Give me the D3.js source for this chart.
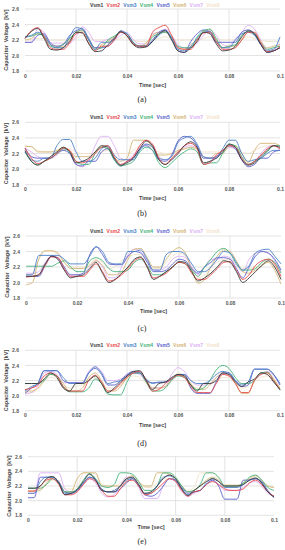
<!DOCTYPE html>
<html>
<head>
<meta charset="utf-8">
<script src="https://cdn.jsdelivr.net/npm/d3@7"></script>
<style>
body { margin: 0; background: #fff; }
svg { display: block; font-family: "Liberation Sans", Arial, sans-serif; }
</style>
</head>
<body>
<script>
// sample instants (sec), every 2.5 ms from 0 to 0.1
var time = d3.range(0, 0.10001, 0.0025);

var names = ["Vsm1", "Vsm2", "Vsm3", "Vsm4", "Vsm5", "Vsm6", "Vsm7", "Vsm8"];
var yTicks = [1.8, 2.0, 2.2, 2.4, 2.6];
var xTicks = [0, 0.02, 0.04, 0.06, 0.08, 0.1];
var captions = ["(a)", "(b)", "(c)", "(d)", "(e)"];

// capacitor voltages [kV], one row per submodule (Vsm1..Vsm8)
var caseA = [
  [2.22,2.31,2.35,2.22,2.08,2.07,2.10,2.18,2.30,2.29, 2.15,2.05,2.06,2.14,2.22,2.31,2.25,2.14,2.10,2.11, 2.18,2.28,2.32,2.20,2.06,2.04,2.10,2.18,2.30,2.28, 2.15,2.06,2.07,2.12,2.24,2.32,2.28,2.14,2.04,2.06, 2.10],
  [2.22,2.32,2.36,2.24,2.10,2.08,2.08,2.16,2.28,2.30, 2.16,2.06,2.12,2.12,2.20,2.30,2.26,2.15,2.12,2.12, 2.30,2.36,2.39,2.26,2.10,2.08,2.08,2.20,2.29,2.30, 2.18,2.08,2.08,2.10,2.20,2.30,2.30,2.16,2.05,2.06, 2.12],
  [2.24,2.26,2.30,2.26,2.14,2.10,2.10,2.24,2.36,2.34, 2.20,2.08,2.17,2.17,2.22,2.30,2.28,2.16,2.12,2.12, 2.18,2.26,2.32,2.22,2.08,2.06,2.12,2.22,2.30,2.31, 2.18,2.10,2.10,2.20,2.28,2.30,2.26,2.14,2.06,2.08, 2.24],
  [2.24,2.25,2.28,2.24,2.12,2.10,2.15,2.22,2.30,2.33, 2.20,2.08,2.10,2.20,2.25,2.30,2.28,2.17,2.12,2.13, 2.24,2.28,2.30,2.24,2.12,2.10,2.10,2.24,2.32,2.34, 2.22,2.10,2.12,2.14,2.26,2.31,2.28,2.16,2.08,2.10, 2.12],
  [2.17,2.17,2.26,2.28,2.16,2.12,2.14,2.26,2.32,2.35, 2.22,2.10,2.10,2.12,2.20,2.32,2.28,2.16,2.12,2.12, 2.20,2.30,2.33,2.22,2.06,2.04,2.18,2.28,2.33,2.30, 2.17,2.17,2.17,2.17,2.30,2.33,2.28,2.14,2.04,2.06, 2.10],
  [2.20,2.22,2.28,2.26,2.14,2.12,2.12,2.20,2.30,2.32, 2.20,2.10,2.14,2.18,2.24,2.30,2.26,2.14,2.12,2.16, 2.26,2.30,2.30,2.22,2.10,2.08,2.14,2.20,2.30,2.32, 2.20,2.10,2.12,2.12,2.20,2.30,2.29,2.18,2.10,2.12, 2.14],
  [2.17,2.17,2.34,2.30,2.16,2.16,2.16,2.16,2.24,2.37, 2.30,2.18,2.18,2.21,2.21,2.26,2.30,2.20,2.15,2.15, 2.28,2.30,2.34,2.26,2.14,2.10,2.10,2.16,2.26,2.33, 2.26,2.14,2.12,2.22,2.30,2.39,2.34,2.20,2.08,2.08, 2.16],
  [2.20,2.20,2.22,2.22,2.20,2.20,2.20,2.20,2.22,2.26, 2.24,2.20,2.20,2.20,2.20,2.22,2.24,2.20,2.18,2.18, 2.20,2.22,2.24,2.22,2.20,2.20,2.20,2.20,2.22,2.24, 2.22,2.20,2.20,2.20,2.22,2.24,2.22,2.20,2.18,2.18, 2.18]
];

var caseB = [
  [2.24,2.10,2.05,2.10,2.16,2.22,2.28,2.22,2.08,2.10, 2.14,2.22,2.30,2.28,2.14,2.05,2.08,2.14,2.26,2.36, 2.30,2.12,2.06,2.12,2.20,2.30,2.35,2.28,2.08,2.10, 2.14,2.22,2.32,2.28,2.12,2.05,2.08,2.16,2.24,2.30, 2.28],
  [2.27,2.14,2.07,2.10,2.14,2.20,2.27,2.24,2.10,2.08, 2.12,2.20,2.28,2.30,2.16,2.06,2.10,2.16,2.30,2.37, 2.32,2.14,2.06,2.14,2.22,2.30,2.33,2.26,2.06,2.08, 2.18,2.24,2.30,2.28,2.14,2.06,2.10,2.18,2.26,2.30, 2.26],
  [2.22,2.12,2.10,2.14,2.14,2.30,2.38,2.38,2.22,2.10, 2.10,2.14,2.26,2.30,2.18,2.12,2.12,2.12,2.24,2.32, 2.28,2.14,2.12,2.16,2.34,2.40,2.42,2.32,2.16,2.14, 2.14,2.26,2.37,2.37,2.20,2.10,2.12,2.14,2.20,2.24, 2.24],
  [2.22,2.10,2.06,2.10,2.14,2.20,2.26,2.22,2.10,2.06, 2.06,2.20,2.28,2.26,2.12,2.04,2.06,2.10,2.22,2.28, 2.24,2.08,2.02,2.08,2.16,2.22,2.26,2.22,2.06,2.08, 2.08,2.20,2.32,2.30,2.16,2.06,2.10,2.14,2.22,2.30, 2.30],
  [2.27,2.16,2.14,2.14,2.14,2.20,2.24,2.20,2.06,2.04, 2.10,2.10,2.22,2.26,2.12,2.04,2.10,2.14,2.26,2.30, 2.24,2.12,2.10,2.18,2.36,2.42,2.40,2.30,2.14,2.14, 2.16,2.24,2.30,2.26,2.12,2.03,2.06,2.14,2.14,2.22, 2.24],
  [2.29,2.29,2.22,2.22,2.22,2.24,2.28,2.24,2.16,2.16, 2.16,2.22,2.28,2.26,2.14,2.10,2.14,2.37,2.37,2.37, 2.28,2.18,2.18,2.20,2.24,2.26,2.28,2.26,2.16,2.14, 2.20,2.20,2.30,2.30,2.20,2.08,2.24,2.33,2.33,2.33, 2.30],
  [2.27,2.22,2.16,2.14,2.14,2.18,2.26,2.24,2.06,2.03, 2.10,2.30,2.42,2.42,2.30,2.14,2.12,2.18,2.28,2.32, 2.30,2.16,2.12,2.12,2.20,2.28,2.30,2.26,2.08,2.10, 2.16,2.20,2.28,2.26,2.12,2.06,2.10,2.20,2.28,2.30, 2.24],
  [2.30,2.28,2.24,2.22,2.22,2.22,2.24,2.26,2.22,2.20, 2.20,2.20,2.22,2.24,2.20,2.20,2.20,2.24,2.30,2.32, 2.26,2.22,2.20,2.20,2.22,2.26,2.28,2.24,2.22,2.22, 2.22,2.22,2.28,2.26,2.22,2.20,2.24,2.28,2.30,2.30, 2.28]
];

var caseC = [
  [2.08,2.08,2.10,2.24,2.34,2.30,2.16,2.06,2.08,2.10, 2.18,2.26,2.12,2.00,2.04,2.12,2.20,2.30,2.33,2.20, 2.04,2.08,2.14,2.20,2.27,2.26,2.14,2.02,2.06,2.12, 2.20,2.28,2.26,2.14,2.00,2.06,2.14,2.22,2.28,2.20, 2.04],
  [2.07,2.08,2.10,2.22,2.33,2.32,2.18,2.08,2.08,2.08, 2.16,2.24,2.14,2.02,2.04,2.10,2.18,2.28,2.32,2.20, 2.06,2.08,2.12,2.20,2.26,2.24,2.12,2.04,2.04,2.10, 2.18,2.26,2.27,2.16,2.04,2.10,2.22,2.28,2.30,2.24, 2.08],
  [2.10,2.10,2.35,2.35,2.35,2.35,2.30,2.24,2.24,2.24, 2.34,2.46,2.40,2.26,2.24,2.24,2.40,2.40,2.42,2.30, 2.16,2.16,2.36,2.40,2.40,2.36,2.24,2.14,2.14,2.20, 2.30,2.40,2.38,2.26,2.16,2.22,2.38,2.42,2.43,2.34, 2.24],
  [2.21,2.21,2.21,2.21,2.21,2.25,2.28,2.20,2.14,2.14, 2.28,2.32,2.28,2.18,2.14,2.14,2.16,2.26,2.30,2.22, 2.10,2.10,2.14,2.20,2.26,2.24,2.16,2.08,2.20,2.30, 2.40,2.44,2.38,2.24,2.16,2.16,2.18,2.26,2.30,2.26, 2.12],
  [2.08,2.08,2.08,2.22,2.34,2.32,2.20,2.10,2.10,2.12, 2.36,2.46,2.36,2.24,2.23,2.23,2.34,2.40,2.38,2.26, 2.14,2.14,2.16,2.24,2.30,2.28,2.18,2.12,2.20,2.26, 2.32,2.32,2.30,2.18,2.06,2.20,2.34,2.40,2.38,2.30, 2.16],
  [1.97,2.00,2.30,2.41,2.41,2.38,2.26,2.18,2.18,2.18, 2.22,2.28,2.22,2.10,2.10,2.14,2.30,2.43,2.44,2.32, 2.20,2.20,2.30,2.40,2.45,2.38,2.16,1.99,2.04,2.20, 2.34,2.42,2.40,2.28,2.14,2.12,2.16,2.22,2.26,2.16, 1.98],
  [2.12,2.12,2.14,2.26,2.34,2.30,2.16,2.08,2.08,2.12, 2.20,2.28,2.20,2.06,2.06,2.20,2.36,2.43,2.40,2.28, 2.16,2.16,2.20,2.30,2.34,2.32,2.20,2.10,2.20,2.30, 2.30,2.34,2.32,2.22,2.14,2.30,2.38,2.40,2.38,2.28, 2.14],
  [2.10,2.12,2.30,2.40,2.40,2.36,2.26,2.20,2.20,2.20, 2.24,2.30,2.26,2.18,2.20,2.28,2.32,2.36,2.36,2.28, 2.18,2.18,2.26,2.34,2.38,2.34,2.20,2.06,2.10,2.20, 2.26,2.30,2.30,2.24,2.18,2.18,2.20,2.24,2.28,2.22, 2.04]
];

var caseD = [
  [2.16,2.16,2.16,2.22,2.30,2.24,2.10,2.06,2.16,2.16, 2.20,2.26,2.16,2.04,2.10,2.18,2.26,2.32,2.33,2.20, 2.08,2.16,2.18,2.24,2.28,2.26,2.14,2.06,2.16,2.16, 2.20,2.30,2.28,2.18,2.12,2.18,2.22,2.30,2.28,2.18, 2.08],
  [2.08,2.10,2.14,2.26,2.30,2.26,2.12,2.06,2.06,2.06, 2.20,2.27,2.18,2.06,2.08,2.16,2.24,2.30,2.32,2.20, 2.06,2.08,2.16,2.22,2.27,2.24,2.12,2.04,2.04,2.04, 2.16,2.28,2.26,2.16,2.04,2.04,2.20,2.28,2.30,2.20, 2.08],
  [2.06,2.12,2.16,2.33,2.33,2.33,2.24,2.16,2.16,2.16, 2.30,2.38,2.30,2.16,2.18,2.20,2.26,2.30,2.30,2.22, 2.16,2.18,2.18,2.22,2.28,2.28,2.20,2.16,2.16,2.20, 2.28,2.32,2.30,2.20,2.14,2.18,2.35,2.35,2.35,2.28, 2.16],
  [2.16,2.16,2.16,2.20,2.28,2.26,2.12,2.05,2.05,2.05, 2.10,2.22,2.16,2.02,2.01,2.01,2.18,2.30,2.30,2.18, 2.06,2.06,2.10,2.20,2.26,2.24,2.14,2.08,2.10,2.20, 2.34,2.40,2.36,2.24,2.16,2.16,2.20,2.30,2.31,2.20, 2.07],
  [2.03,2.10,2.16,2.33,2.33,2.33,2.20,2.17,2.17,2.17, 2.30,2.36,2.28,2.14,2.14,2.20,2.28,2.32,2.30,2.20, 2.17,2.17,2.18,2.22,2.28,2.28,2.10,2.03,2.03,2.03, 2.18,2.30,2.30,2.20,2.12,2.14,2.35,2.35,2.35,2.28, 2.14],
  [2.06,2.06,2.10,2.20,2.28,2.26,2.16,2.06,2.06,2.10, 2.24,2.30,2.20,2.06,2.06,2.12,2.24,2.30,2.30,2.22, 2.10,2.10,2.12,2.22,2.28,2.26,2.16,2.08,2.08,2.14, 2.24,2.30,2.28,2.16,2.03,2.03,2.20,2.30,2.31,2.22, 2.10],
  [2.02,2.04,2.12,2.30,2.32,2.28,2.17,2.17,2.17,2.17, 2.32,2.39,2.32,2.20,2.20,2.22,2.28,2.30,2.28,2.18, 2.10,2.10,2.12,2.28,2.37,2.32,2.20,2.14,2.14,2.16, 2.24,2.28,2.28,2.20,2.16,2.16,2.20,2.28,2.32,2.26, 2.14],
  [2.04,2.04,2.08,2.18,2.24,2.22,2.14,2.10,2.12,2.14, 2.22,2.24,2.18,2.10,2.10,2.14,2.22,2.26,2.24,2.16, 2.10,2.10,2.12,2.20,2.30,2.26,2.16,2.10,2.12,2.16, 2.20,2.24,2.24,2.16,2.10,2.12,2.18,2.24,2.26,2.20, 2.12]
];

var caseE = [
  [2.17,2.17,2.20,2.30,2.33,2.24,2.08,2.10,2.15,2.26, 2.36,2.28,2.14,2.12,2.12,2.20,2.30,2.32,2.22,2.10, 2.12,2.20,2.30,2.35,2.30,2.16,2.07,2.14,2.20,2.26, 2.30,2.26,2.20,2.20,2.20,2.22,2.28,2.31,2.24,2.12, 2.05],
  [2.13,2.13,2.20,2.28,2.30,2.22,2.08,2.08,2.12,2.22, 2.30,2.26,2.14,2.06,2.06,2.16,2.26,2.28,2.20,2.08, 2.10,2.16,2.24,2.30,2.26,2.14,2.06,2.12,2.14,2.22, 2.26,2.22,2.16,2.14,2.14,2.16,2.24,2.28,2.22,2.12, 2.06],
  [2.10,2.10,2.26,2.32,2.32,2.24,2.10,2.10,2.14,2.24, 2.32,2.28,2.16,2.12,2.14,2.20,2.28,2.30,2.20,2.10, 2.10,2.20,2.32,2.34,2.28,2.16,2.08,2.12,2.14,2.24, 2.30,2.26,2.18,2.18,2.18,2.22,2.28,2.30,2.24,2.12, 2.06],
  [2.17,2.17,2.17,2.22,2.30,2.24,2.12,2.12,2.16,2.28, 2.37,2.30,2.20,2.18,2.22,2.38,2.38,2.36,2.26,2.14, 2.14,2.20,2.38,2.38,2.32,2.20,2.12,2.14,2.22,2.38, 2.38,2.32,2.20,2.20,2.20,2.24,2.32,2.35,2.28,2.18, 2.14],
  [2.04,2.04,2.32,2.32,2.32,2.26,2.12,2.10,2.14,2.24, 2.32,2.28,2.14,2.12,2.12,2.16,2.24,2.30,2.22,2.08, 2.06,2.10,2.20,2.30,2.28,2.18,2.10,2.12,2.14,2.22, 2.28,2.20,2.02,2.02,2.02,2.28,2.28,2.30,2.26,2.14, 2.04],
  [2.13,2.13,2.14,2.24,2.32,2.26,2.12,2.12,2.30,2.38, 2.38,2.38,2.20,2.20,2.20,2.20,2.30,2.34,2.26,2.20, 2.20,2.38,2.38,2.36,2.30,2.20,2.12,2.14,2.20,2.28, 2.32,2.28,2.20,2.20,2.20,2.24,2.30,2.34,2.28,2.20, 2.18],
  [2.10,2.10,2.38,2.38,2.38,2.38,2.16,2.12,2.14,2.22, 2.30,2.24,2.10,2.05,2.08,2.20,2.32,2.32,2.18,2.03, 2.03,2.03,2.20,2.30,2.26,2.12,2.06,2.10,2.14,2.22, 2.28,2.22,2.14,2.14,2.14,2.18,2.24,2.26,2.20,2.10, 2.06],
  [2.14,2.14,2.16,2.22,2.28,2.24,2.16,2.16,2.18,2.38, 2.38,2.36,2.22,2.20,2.20,2.24,2.30,2.30,2.24,2.18, 2.18,2.24,2.30,2.30,2.26,2.18,2.14,2.18,2.38,2.38, 2.38,2.30,2.22,2.22,2.22,2.24,2.28,2.30,2.26,2.20, 2.18]
];

var cases = [caseA, caseB, caseC, caseD, caseE];

// line / legend colours for Vsm1..Vsm8
var colors = ["#383838", "#e84848", "#4a7fc6", "#43b27a", "#5a60cc", "#d4b476", "#dcb0f4", "#f2e2c8"];

// plot boxes in page pixels (l,r,t,b), legend baseline, x-title baseline, caption baseline
var boxes = [
  {l: 25, r: 280, t: 9,     b: 71,    leg: 6.5,   xt: 86.5,  cap: 102, legend: true},
  {l: 25, r: 280, t: 122.3, b: 184.7, leg: 118.7, xt: 200,   cap: 216, legend: true},
  {l: 26, r: 281, t: 236,   b: 298,   leg: 232.7, xt: 313,   cap: 330.5, legend: true},
  {l: 25, r: 280, t: 350.3, b: 410.7, leg: 346.7, xt: 426.7, cap: 446, legend: true},
  {l: 28, r: 274, t: 456.7, b: 515.3, leg: 0,     xt: 529.3, cap: 543.5, legend: false}
];

var svg = d3.select("body").append("svg")
  .attr("width", 285)
  .attr("height", 550);

boxes.forEach(function(box, k){
  var x = d3.scaleLinear().domain([0, 0.1]).range([box.l, box.r]);
  var y = d3.scaleLinear().domain([1.8, 2.6]).range([box.b, box.t]);
  var g = svg.append("g");

  //gridlines
  g.append("g").selectAll("line").data(yTicks).enter().append("line")
    .attr("x1", box.l).attr("x2", box.r)
    .attr("y1", function(d){ return y(d); }).attr("y2", function(d){ return y(d); })
    .attr("stroke", "#dcdcdc").attr("stroke-width", 0.8);
  g.append("g").selectAll("line").data(xTicks.slice(1, -1)).enter().append("line")
    .attr("x1", function(d){ return x(d); }).attr("x2", function(d){ return x(d); })
    .attr("y1", box.t).attr("y2", box.b)
    .attr("stroke", "#dcdcdc").attr("stroke-width", 0.8);

  //y axis labels
  var yAxis = d3.axisLeft(y).tickValues(yTicks).tickSize(0).tickPadding(6).tickFormat(d3.format(".1f"));
  var ya = g.append("g").attr("transform", "translate(" + box.l + ",0)").call(yAxis);
  //x axis labels
  var xAxis = d3.axisBottom(x).tickValues(xTicks).tickSize(0).tickPadding(3).tickFormat(function(d){ return String(d); });
  var xa = g.append("g").attr("transform", "translate(0," + box.b + ")").call(xAxis);
  [ya, xa].forEach(function(a){
    a.select(".domain").remove();
    a.selectAll("text").attr("font-size", 5).attr("font-weight", "bold")
      .attr("fill", "#555").attr("font-family", "'Liberation Sans', Arial, sans-serif");
  });

  //axis titles
  g.append("text")
    .attr("x", (box.l + box.r) / 2).attr("y", box.xt)
    .attr("text-anchor", "middle").attr("font-size", 5.5).attr("font-weight", "bold").attr("fill", "#444")
    .text("Time [sec]");
  g.append("text")
    .attr("transform", "translate(" + (box.l - 17.5) + "," + ((box.t + box.b) / 2) + ") rotate(-90)")
    .attr("text-anchor", "middle").attr("font-size", 5.5).attr("font-weight", "bold").attr("fill", "#444")
    .attr("xml:space", "preserve")
    .text("Capacitor  Voltage  [kV]");

  //lines, Vsm1 on top
  var line = d3.line()
    .x(function(d, i){ return x(time[i]); })
    .y(function(d){ return y(d); })
    .curve(d3.curveMonotoneX);
  var series = cases[k];
  for (var s = series.length - 1; s >= 0; s--) {
    g.append("path").datum(series[s])
      .attr("d", line)
      .attr("fill", "none")
      .attr("stroke", colors[s])
      .attr("stroke-width", 0.9)
      .attr("stroke-linejoin", "round");
  }

  //legend
  if (box.legend) {
    g.append("g").selectAll("text").data(names).enter().append("text")
      .attr("x", function(d, i){ return 90 + i * 16.6; })
      .attr("y", box.leg)
      .attr("font-size", 5).attr("font-weight", "bold")
      .attr("fill", function(d, i){ return colors[i]; })
      .text(function(d){ return d; });
  }

  //caption
  g.append("text")
    .attr("x", 142).attr("y", box.cap)
    .attr("text-anchor", "middle")
    .attr("font-family", "'Liberation Serif', 'Times New Roman', serif")
    .attr("font-size", 8).attr("fill", "#222")
    .text(captions[k]);
});
</script>
</body>
</html>
